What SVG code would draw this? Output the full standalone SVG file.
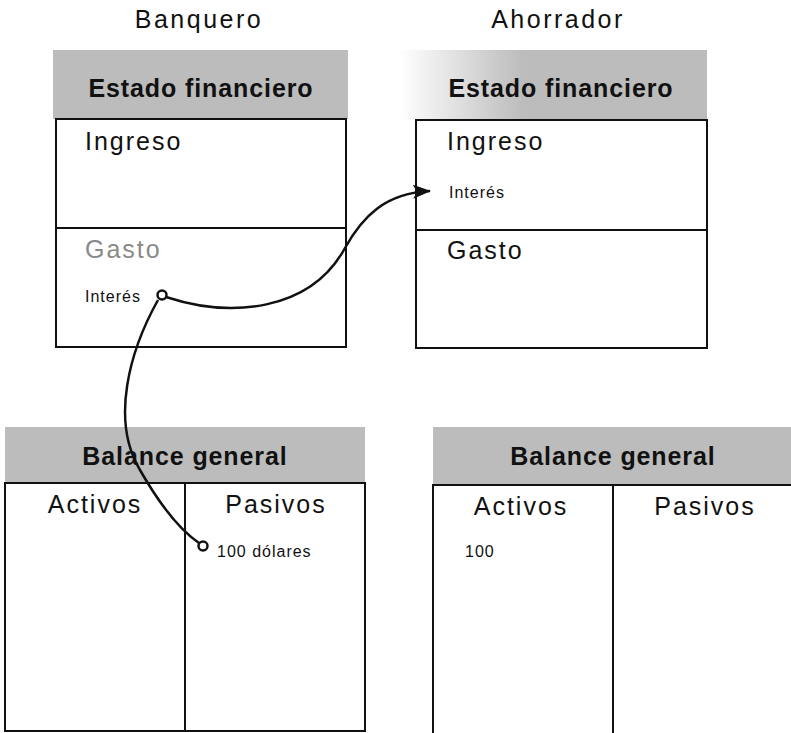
<svg xmlns="http://www.w3.org/2000/svg" width="791" height="733" viewBox="0 0 791 733">
<style>
  text { font-family: "Liberation Sans", Arial, sans-serif; fill: #111; }
  .who { font-size: 25px; letter-spacing: 2.5px; text-anchor: middle; }
  .title { font-size: 25px; font-weight: bold; letter-spacing: 0.9px; text-anchor: middle; }
  .big { font-size: 25px; letter-spacing: 2px; }
  .mid { text-anchor: middle; }
  .small { font-size: 16px; letter-spacing: 1px; }
  .band { fill: #bcbcbc; }
  .box { fill: none; stroke: #111; stroke-width: 2; }
  .conn { fill: none; stroke: #111; stroke-width: 2.5; }
  .dot { fill: #fff; stroke: #111; stroke-width: 2.5; }
</style>
<defs>
  <linearGradient id="fade" x1="0" y1="0" x2="1" y2="0">
    <stop offset="0" stop-color="#bcbcbc" stop-opacity="0"/>
    <stop offset="0.4" stop-color="#bcbcbc" stop-opacity="1"/>
    <stop offset="1" stop-color="#bcbcbc" stop-opacity="1"/>
  </linearGradient>
  <marker id="arrow" viewBox="0 0 18 14" refX="17" refY="7" markerWidth="18" markerHeight="14" markerUnits="userSpaceOnUse" orient="auto">
    <path d="M0,0 L18,7 L0,14 L4,7 Z" fill="#111"/>
  </marker>
</defs>

<text class="who" x="199" y="28">Banquero</text>
<text class="who" x="558" y="28">Ahorrador</text>

<g id="banquero-estado">
  <rect class="band" x="53" y="50" width="295" height="69"/>
  <text class="title" x="201" y="97">Estado financiero</text>
  <rect class="box" x="56" y="119" width="290" height="228"/>
  <line class="box" x1="56" y1="228" x2="346" y2="228"/>
  <text class="big" x="85" y="150">Ingreso</text>
  <text class="big" x="85" y="258" style="fill:#8a8a8a">Gasto</text>
  <text class="small" x="85" y="302">Interés</text>
</g>

<g id="ahorrador-estado">
  <rect x="400" y="50" width="307" height="69" fill="url(#fade)"/>
  <text class="title" x="561" y="97">Estado financiero</text>
  <rect class="box" x="416" y="120" width="291" height="228"/>
  <line class="box" x1="416" y1="230" x2="707" y2="230"/>
  <text class="big" x="447" y="150">Ingreso</text>
  <text class="small" x="449" y="198">Interés</text>
  <text class="big" x="447" y="259">Gasto</text>
</g>

<g id="banquero-balance">
  <rect class="band" x="5" y="427" width="360" height="56"/>
  <text class="title" x="185" y="465">Balance general</text>
  <rect class="box" x="5" y="483" width="360" height="248"/>
  <line class="box" x1="185" y1="483" x2="185" y2="731"/>
  <text class="big mid" x="95" y="513">Activos</text>
  <text class="big mid" x="276" y="513">Pasivos</text>
  <text class="small" x="217" y="557">100 dólares</text>
</g>

<g id="ahorrador-balance">
  <rect class="band" x="433" y="427" width="360" height="58"/>
  <text class="title" x="613" y="465">Balance general</text>
  <rect class="box" x="433" y="485" width="370" height="260"/>
  <line class="box" x1="613" y1="485" x2="613" y2="735"/>
  <text class="big mid" x="521" y="515">Activos</text>
  <text class="big mid" x="705" y="515">Pasivos</text>
  <text class="small" x="465" y="557">100</text>
</g>

<g id="connectors">
  <path class="conn" d="M166,297 C230,318 310,312 345,248 C362,217 385,193 430,191" marker-end="url(#arrow)"/>
  <path class="conn" d="M158,300 C130,350 110,420 140,470 C160,505 180,530 199,543"/>
  <circle class="dot" cx="162" cy="295" r="4.5"/>
  <circle class="dot" cx="203" cy="546" r="4.5"/>
</g>
</svg>
